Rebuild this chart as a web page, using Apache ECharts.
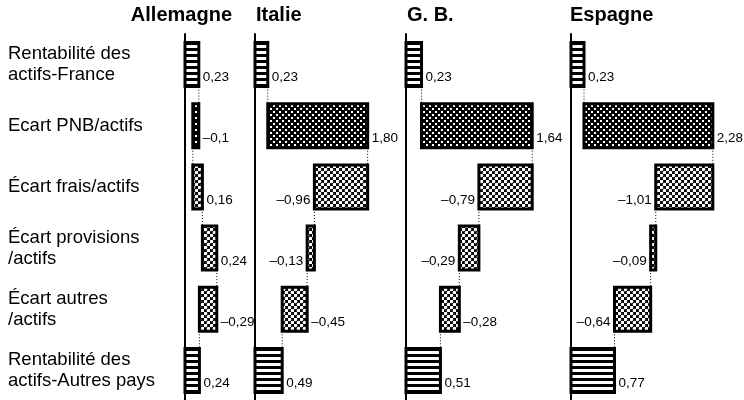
<!DOCTYPE html>
<html>
<head>
<meta charset="utf-8">
<script src="https://cdn.jsdelivr.net/npm/echarts@6/dist/echarts.min.js"></script>
<style>
html,body{margin:0;padding:0;background:#fff;}
#chart{width:744px;height:400px;}
</style>
</head>
<body>
<div id="chart"></div>
<script>
// ---- data ----
const rowLabels = [
  'Rentabilité des\nactifs-France',
  'Ecart PNB/actifs',
  'Écart frais/actifs',
  'Écart provisions\n/actifs',
  'Écart autres\n/actifs',
  'Rentabilité des\nactifs-Autres pays'
];
const countries = ['Allemagne', 'Italie', 'G. B.', 'Espagne'];
const allemagne = [0.23, -0.1, 0.16, 0.24, -0.29, 0.24];
const italie    = [0.23, 1.80, -0.96, -0.13, -0.45, 0.49];
const gb        = [0.23, 1.64, -0.79, -0.29, -0.28, 0.51];
const espagne   = [0.23, 2.28, -1.01, -0.09, -0.64, 0.77];
const seriesValues = [allemagne, italie, gb, espagne];

// ---- layout / style config ----
const panels = [
  {left: 185, scale: 60,   max: 1},
  {left: 255, scale: 55.5, max: 2.2},
  {left: 406, scale: 67.5, max: 2},
  {left: 571, scale: 56.5, max: 3}
];
const titlePos = [{right: 512}, {left: 256}, {left: 407}, {left: 570}];
const rowPattern = ['stripes', 'dots', 'checker', 'checker', 'checker', 'stripes'];
const FONT = '"Liberation Sans", Arial, Helvetica, sans-serif';
const LABEL_FONT = '13.5px ' + FONT;

function makePattern(kind) {
  const c = document.createElement('canvas');
  const ctx = c.getContext('2d');
  if (kind === 'stripes') {
    c.width = 4; c.height = 6;
    ctx.fillStyle = '#000'; ctx.fillRect(0, 0, 4, 6);
    ctx.fillStyle = '#fff'; ctx.fillRect(0, 3, 4, 3);
  } else if (kind === 'dots') {
    c.width = 6; c.height = 6;
    ctx.fillStyle = '#000'; ctx.fillRect(0, 0, 6, 6);
    ctx.fillStyle = '#fff';
    ctx.fillRect(0, 0, 2, 2); ctx.fillRect(3, 3, 2, 2);
  } else {
    c.width = 6; c.height = 6;
    ctx.fillStyle = '#000'; ctx.fillRect(0, 0, 6, 6);
    ctx.fillStyle = '#fff';
    ctx.beginPath(); ctx.arc(1.5, 1.5, 1.8, 0, Math.PI * 2); ctx.fill();
    ctx.beginPath(); ctx.arc(4.5, 4.5, 1.8, 0, Math.PI * 2); ctx.fill();
  }
  return {image: c, repeat: 'repeat'};
}
const patterns = {
  stripes: makePattern('stripes'),
  dots: makePattern('dots'),
  checker: makePattern('checker')
};

const measureCtx = document.createElement('canvas').getContext('2d');
measureCtx.font = LABEL_FONT;

function fmt(v) {
  const s = Math.abs(v) >= 1 ? v.toFixed(2) : String(v);
  return s.replace('.', ',').replace('-', '\u2013');
}

function buildData(vals) {
  const out = [];
  let cum = 0;
  const last = vals.length - 1;
  vals.forEach((v, i) => {
    let start, end;
    if (i === 0 || i === last) { start = 0; end = v; }
    else { start = cum; end = Math.round((cum + v) * 100) / 100; }
    cum = end;
    out.push([start, end, i, v]);
  });
  return out;
}

function renderItem(params, api) {
  const start = api.value(0), end = api.value(1), row = api.value(2), val = api.value(3);
  const lo = Math.min(start, end), hi = Math.max(start, end);
  const pLo = api.coord([lo, row]);
  const pHi = api.coord([hi, row]);
  const pAxis = api.coord([0, row]);
  const pEnd = api.coord([end, row]);
  const band = api.size([0, 1])[1];
  const h = band * 0.72;
  const cy = pLo[1];
  const children = [{
    type: 'rect',
    shape: {x: pLo[0], y: cy - h / 2, width: Math.max(pHi[0] - pLo[0], 1), height: h},
    style: {fill: patterns[rowPattern[row]], stroke: '#000', lineWidth: 3}
  }];
  if (row < rowLabels.length - 1) {
    children.push({
      type: 'line',
      shape: {x1: pEnd[0], y1: cy + h / 2, x2: pEnd[0], y2: cy + band - h / 2},
      style: {stroke: '#000', lineWidth: 1, lineDash: [1, 2]}
    });
  }
  const txt = fmt(val);
  const tw = measureCtx.measureText(txt).width;
  let right = val >= 0;
  if (!right && pLo[0] - 4 - tw < pAxis[0] + 3) right = true;
  children.push({
    type: 'text',
    style: {
      text: txt,
      x: right ? pHi[0] + 4 : pLo[0] - 4,
      y: cy + h / 2 - 9,
      fill: '#000',
      font: LABEL_FONT,
      textAlign: right ? 'left' : 'right',
      textVerticalAlign: 'middle',
      align: right ? 'left' : 'right',
      verticalAlign: 'middle'
    }
  });
  return {type: 'group', children: children};
}

const grids = [], xAxes = [], yAxes = [], series = [], titles = [];
panels.forEach((p, k) => {
  grids.push({left: p.left, top: 34, width: p.scale * p.max, height: 367,
              containLabel: false, outerBoundsMode: 'none'});
  xAxes.push({type: 'value', gridIndex: k, min: 0, max: p.max, show: false});
  yAxes.push({
    type: 'category', gridIndex: k, data: rowLabels, inverse: true,
    axisLine: {show: true, lineStyle: {color: '#000', width: 2}},
    axisTick: {show: false},
    splitLine: {show: false},
    axisLabel: k === 0 ? {
      show: true, align: 'left', margin: 177, color: '#000',
      fontSize: 18.5, lineHeight: 21, fontFamily: FONT
    } : {show: false}
  });
  series.push({
    type: 'custom', xAxisIndex: k, yAxisIndex: k,
    encode: {x: [0, 1], y: 2},
    data: buildData(seriesValues[k]),
    renderItem: renderItem,
    clip: false
  });
  titles.push(Object.assign({
    text: countries[k], top: 5, padding: 0,
    textStyle: {fontSize: 20, fontWeight: 'bold', color: '#000', fontFamily: FONT}
  }, titlePos[k]));
});

const chart = echarts.init(document.getElementById('chart'), null, {renderer: 'canvas'});
chart.setOption({
  backgroundColor: '#fff',
  animation: false,
  title: titles,
  grid: grids,
  xAxis: xAxes,
  yAxis: yAxes,
  series: series
});
</script>
</body>
</html>
